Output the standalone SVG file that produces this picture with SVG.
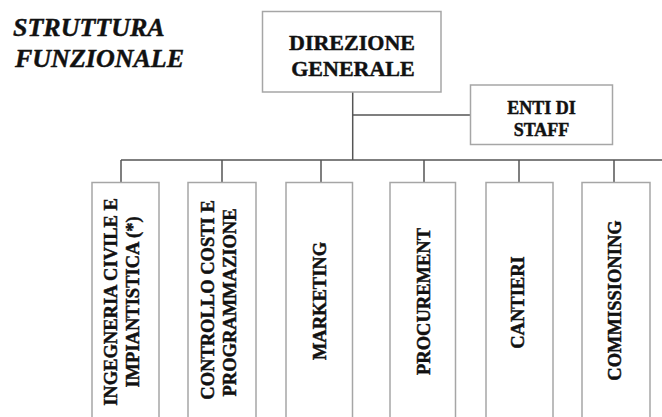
<svg xmlns="http://www.w3.org/2000/svg" width="662" height="417" viewBox="0 0 662 417">
<style>
.box{fill:#fff;stroke:#a6a6a6;stroke-width:1.5}
.con{fill:none;stroke:#555;stroke-width:1.5}
.t{font-family:"Liberation Serif","Times New Roman",serif;font-weight:bold;fill:#111;stroke:#111;stroke-width:0.45}
.title{font-size:26px;font-style:italic}
.dg{font-size:22px;text-anchor:middle}
.st{font-size:18px;text-anchor:middle}
.v{font-size:18.5px;text-anchor:middle}
</style>
<rect width="662" height="417" fill="#fff"/>
<g id="title">
<text class="t title" x="13" y="36">STRUTTURA</text>
<text class="t title" x="15" y="67">FUNZIONALE</text>
</g>
<g id="connectors">
<line class="con" x1="352.7" y1="92" x2="352.7" y2="160"/>
<line class="con" x1="352.7" y1="115" x2="470.5" y2="115"/>
<line class="con" x1="121" y1="160" x2="662" y2="160"/>
<line class="con" x1="121" y1="160" x2="121" y2="182.5"/>
<line class="con" x1="222" y1="160" x2="222" y2="182.5"/>
<line class="con" x1="321" y1="160" x2="321" y2="182.5"/>
<line class="con" x1="424" y1="160" x2="424" y2="182.5"/>
<line class="con" x1="519" y1="160" x2="519" y2="182.5"/>
<line class="con" x1="614" y1="160" x2="614" y2="182.5"/>
</g>
<g id="direzione">
<rect class="box" x="262.5" y="11.5" width="178.5" height="80.5"/>
<text class="t dg" x="352" y="50">DIREZIONE</text>
<text class="t dg" x="353" y="76">GENERALE</text>
</g>
<g id="staff">
<rect class="box" x="470.5" y="85" width="142" height="59.5"/>
<text class="t st" x="541.5" y="114">ENTI DI</text>
<text class="t st" x="541.5" y="136">STAFF</text>
</g>
<g id="ingegneria">
<rect class="box" x="92" y="182.5" width="67" height="250"/>
<text class="t v" transform="translate(116.7,302) rotate(-90)">INGEGNERIA CIVILE E</text>
<text class="t v" transform="translate(139,302) rotate(-90)">IMPIANTISTICA (*)</text>
</g>
<g id="controllo">
<rect class="box" x="188" y="182.5" width="68" height="250"/>
<text class="t v" transform="translate(214,300) rotate(-90)">CONTROLLO COSTI E</text>
<text class="t v" transform="translate(236,302.5) rotate(-90)">PROGRAMMAZIONE</text>
</g>
<g id="marketing">
<rect class="box" x="286" y="182.5" width="66.5" height="250"/>
<text class="t v" transform="translate(326,301) rotate(-90)">MARKETING</text>
</g>
<g id="procurement">
<rect class="box" x="390" y="182.5" width="65.5" height="250"/>
<text class="t v" transform="translate(430,301.5) rotate(-90)">PROCUREMENT</text>
</g>
<g id="cantieri">
<rect class="box" x="486" y="182.5" width="67" height="250"/>
<text class="t v" transform="translate(524,302.5) rotate(-90)">CANTIERI</text>
</g>
<g id="commissioning">
<rect class="box" x="582" y="182.5" width="68" height="250"/>
<text class="t v" transform="translate(621,300.5) rotate(-90)">COMMISSIONING</text>
</g>
</svg>
